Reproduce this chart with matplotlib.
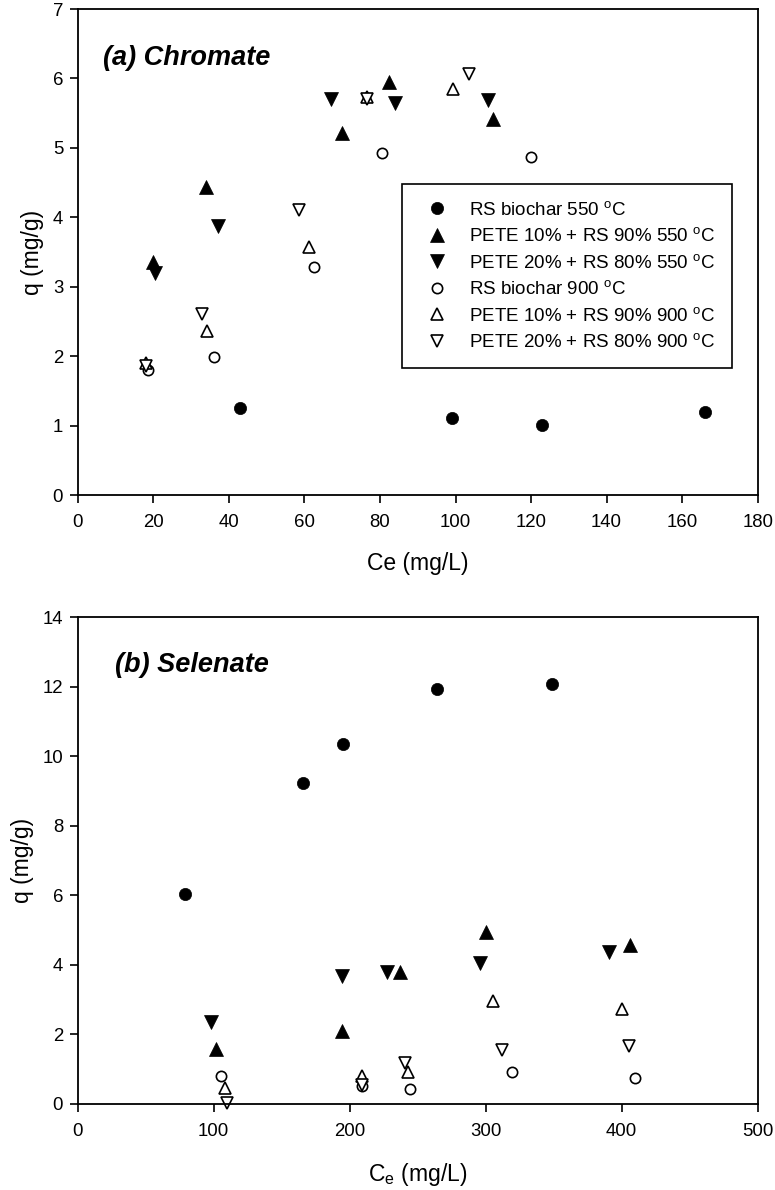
import matplotlib
matplotlib.use("Agg")
import matplotlib.pyplot as plt

plt.rcParams['font.family'] = ['Liberation Sans', 'DejaVu Sans']
plt.rcParams['mathtext.fontset'] = 'custom'
plt.rcParams['mathtext.rm'] = 'Liberation Sans'
plt.rcParams['mathtext.it'] = 'Liberation Sans:italic'

# (a) Chromate: Ce (mg/L) and q (mg/g)
cr_rs550_x = [43, 99, 123, 166]
cr_rs550_y = [1.25, 1.11, 1.01, 1.19]
cr_p10_550_x = [20, 34, 70, 82.5, 110]
cr_p10_550_y = [3.36, 4.44, 5.22, 5.95, 5.42]
cr_p20_550_x = [20.5, 37, 67, 84, 108.5]
cr_p20_550_y = [3.2, 3.88, 5.7, 5.64, 5.69]
cr_rs900_x = [18.5, 36, 62.5, 80.5, 120]
cr_rs900_y = [1.8, 1.99, 3.29, 4.92, 4.87]
cr_p10_900_x = [18.2, 34.2, 61.2, 76.7, 99.3]
cr_p10_900_y = [1.9, 2.36, 3.57, 5.74, 5.85]
cr_p20_900_x = [18.2, 33, 58.5, 76.7, 103.5]
cr_p20_900_y = [1.86, 2.61, 4.11, 5.71, 6.06]

# (b) Selenate
se_rs550_x = [79, 166, 195, 264.5, 349]
se_rs550_y = [6.05, 9.22, 10.34, 11.93, 12.07]
se_p10_550_x = [102, 194, 237, 300, 406]
se_p10_550_y = [1.58, 2.1, 3.78, 4.94, 4.58]
se_p20_550_x = [98, 194, 227.5, 295.5, 391]
se_p20_550_y = [2.37, 3.69, 3.78, 4.04, 4.38]
se_rs900_x = [105.5, 209, 244.5, 319.5, 409.5]
se_rs900_y = [0.81, 0.52, 0.44, 0.93, 0.74]
se_p10_900_x = [108, 209, 243, 305, 400]
se_p10_900_y = [0.45, 0.79, 0.93, 2.97, 2.73]
se_p20_900_x = [110, 209, 241, 312, 405]
se_p20_900_y = [0.03, 0.55, 1.18, 1.54, 1.68]

labels = [r"RS biochar 550 $^\mathregular{o}$C",
          r"PETE 10% + RS 90% 550 $^\mathregular{o}$C",
          r"PETE 20% + RS 80% 550 $^\mathregular{o}$C",
          r"RS biochar 900 $^\mathregular{o}$C",
          r"PETE 10% + RS 90% 900 $^\mathregular{o}$C",
          r"PETE 20% + RS 80% 900 $^\mathregular{o}$C"]

styles = [dict(marker='o', ms=8.8, mfc='k', mec='k', mew=0.5),
          dict(marker='^', ms=9.5, mfc='k', mec='k', mew=0.5),
          dict(marker='v', ms=9.5, mfc='k', mec='k', mew=0.5),
          dict(marker='o', ms=7.4, mfc='white', mec='k', mew=1.2),
          dict(marker='^', ms=8.6, mfc='white', mec='k', mew=1.2),
          dict(marker='v', ms=8.6, mfc='white', mec='k', mew=1.2)]

fig = plt.figure(figsize=(7.75, 11.9), dpi=100)
ax1 = fig.add_axes([0.1003, 0.584, 0.8774, 0.4084])
ax2 = fig.add_axes([0.1003, 0.0723, 0.8774, 0.4092])

cr = [(cr_rs550_x, cr_rs550_y), (cr_p10_550_x, cr_p10_550_y), (cr_p20_550_x, cr_p20_550_y),
      (cr_rs900_x, cr_rs900_y), (cr_p10_900_x, cr_p10_900_y), (cr_p20_900_x, cr_p20_900_y)]
se = [(se_rs550_x, se_rs550_y), (se_p10_550_x, se_p10_550_y), (se_p20_550_x, se_p20_550_y),
      (se_rs900_x, se_rs900_y), (se_p10_900_x, se_p10_900_y), (se_p20_900_x, se_p20_900_y)]

for (x, y), lab, st in zip(cr, labels, styles):
    ax1.plot(x, y, ls='none', label=lab, clip_on=False, **st)
for (x, y), st in zip(se, styles):
    ax2.plot(x, y, ls='none', clip_on=False, **st)

ax1.set_xlim(0, 180)
ax1.set_ylim(0, 7)
ax1.set_xticks(range(0, 181, 20))
ax1.set_yticks(range(0, 8))
ax1.set_xlabel("Ce (mg/L)", fontsize=16.5, labelpad=15)
ax1.set_ylabel("q (mg/g)", fontsize=16.5, labelpad=6)

ax2.set_xlim(0, 500)
ax2.set_ylim(0, 14)
ax2.set_xticks(range(0, 501, 100))
ax2.set_yticks(range(0, 15, 2))
ax2.set_xlabel(r"C$_\mathregular{e}$ (mg/L)", fontsize=16.5, labelpad=15)
ax2.set_ylabel("q (mg/g)", fontsize=16.5, labelpad=6)

for ax in (ax1, ax2):
    for s in ax.spines.values():
        s.set_linewidth(1.3)
    ax.tick_params(axis='both', direction='out', length=5.5, width=1.2, labelsize=13.4)
    ax.tick_params(axis='x', pad=8)
    ax.tick_params(axis='y', pad=5)

ax1.text(0.037, 0.9, "(a) Chromate", transform=ax1.transAxes, fontsize=19.5,
         fontweight='bold', fontstyle='italic', va='center', ha='left')
ax2.text(0.055, 0.902, "(b) Selenate", transform=ax2.transAxes, fontsize=19.5,
         fontweight='bold', fontstyle='italic', va='center', ha='left')

leg = ax1.legend(loc='upper left', bbox_to_anchor=(0.4765, 0.64), borderaxespad=0,
                 fontsize=13.5, frameon=True, fancybox=False, framealpha=1,
                 edgecolor='k', handlelength=2, handletextpad=0.7,
                 borderpad=0.9, labelspacing=0.45, numpoints=1)
leg.get_frame().set_linewidth(1.2)

fig.savefig("out.png", dpi=100)
